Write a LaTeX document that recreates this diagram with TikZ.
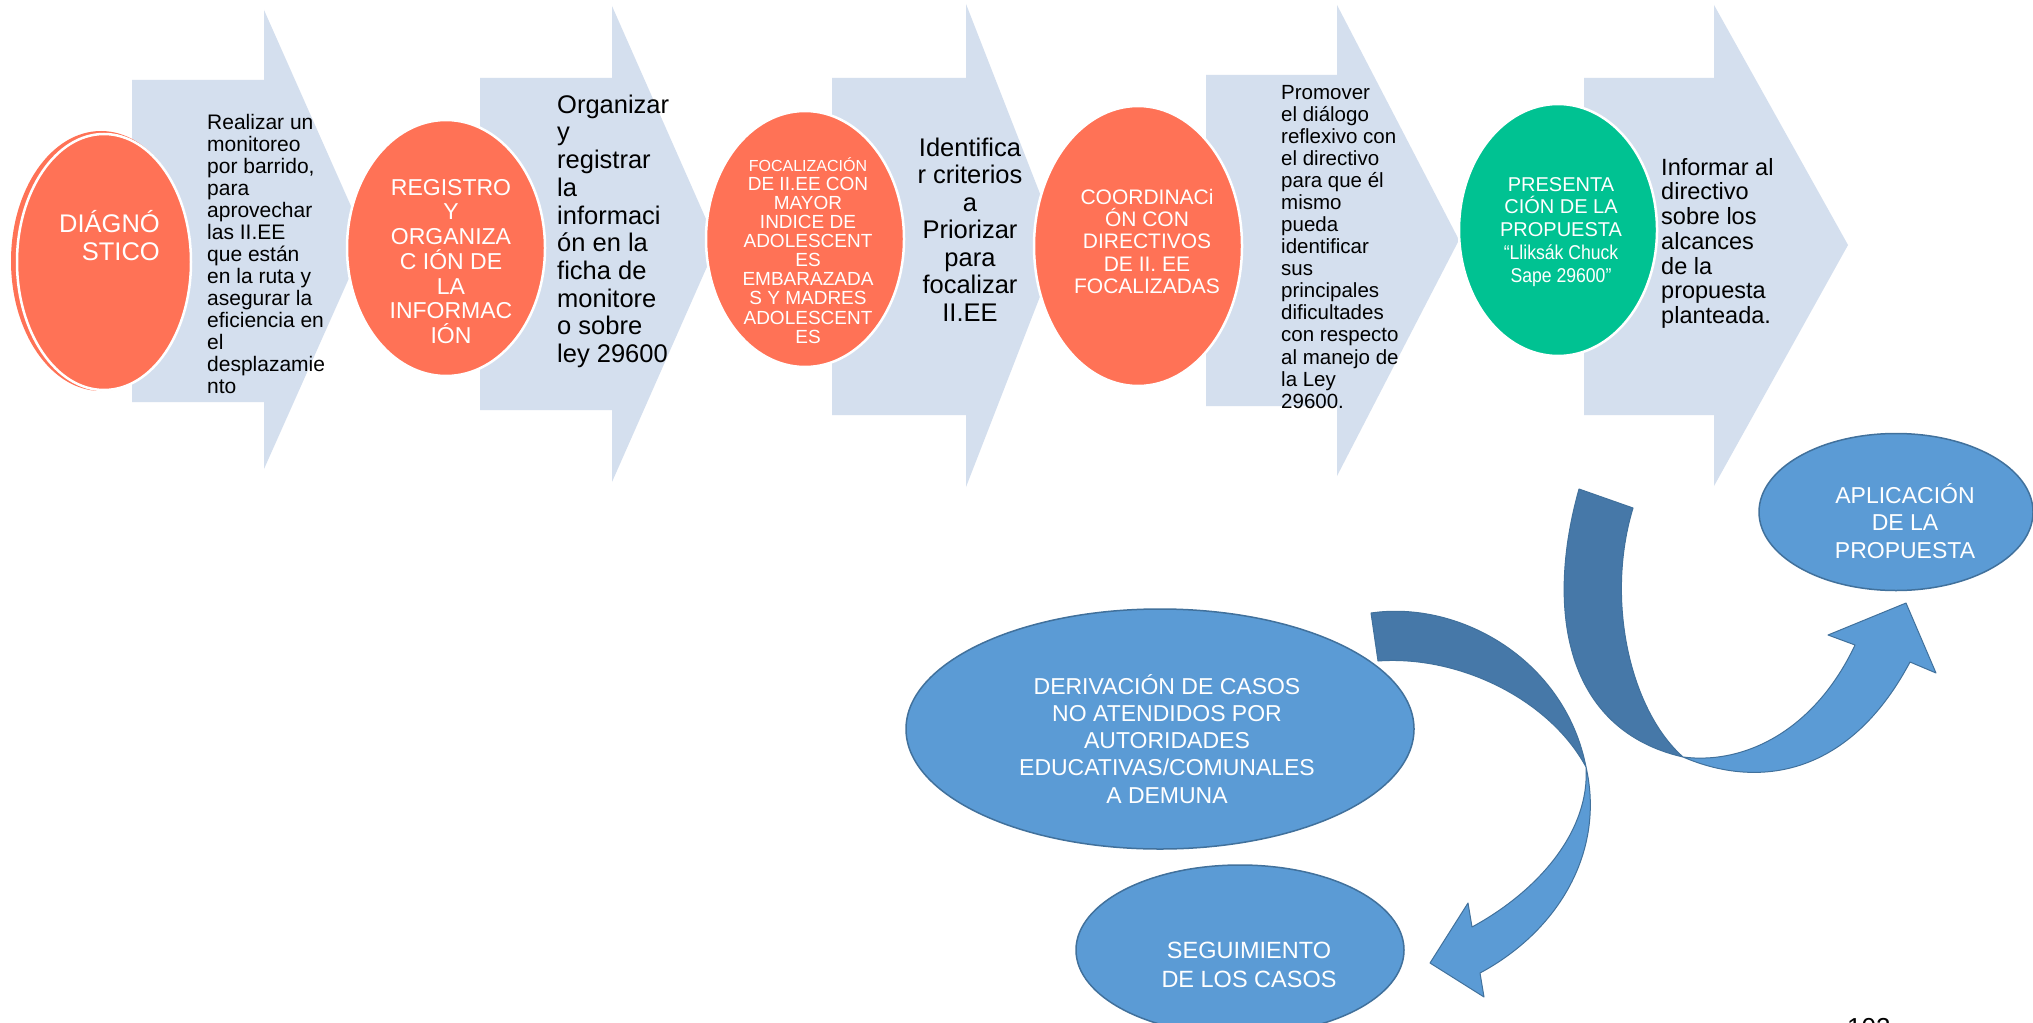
\documentclass[tikz,border=0pt]{standalone}
\usepackage{fontspec}
\usepackage{graphicx}
\setmainfont{Liberation Sans}
\lineskiplimit=-100pt
\definecolor{chev}{RGB}{212,223,238}
\definecolor{salmon}{RGB}{255,114,86}
\definecolor{greenell}{RGB}{0,194,146}
\definecolor{blueA}{RGB}{91,155,213}
\definecolor{blueline}{RGB}{65,113,156}
\definecolor{darkband}{RGB}{70,120,168}
\begin{document}
\begin{tikzpicture}[x=1pt,y=-1pt,
  chevron/.style={fill=chev,draw=none},
  salmonell/.style={fill=salmon,draw=white,line width=2.5pt},
  greenellipse/.style={fill=greenell,draw=white,line width=2.5pt},
  blueell/.style={fill=blueA,draw=blueline,line width=1.5pt},
  bandback/.style={fill=darkband,draw=blueline,line width=1pt,line join=round},
  bandfront/.style={fill=blueA,draw=blueline,line width=1pt,line join=round},
  bodytext/.style={text=black,inner sep=0pt,align=left,anchor=north west},
  bodytextc/.style={text=black,inner sep=0pt,align=center,anchor=north},
  elltext/.style={text=white,inner sep=0pt,align=center,anchor=north}]
\useasboundingbox (0,0) rectangle (2033,1022);
\fill[white] (0,0) rectangle (2033,1022);

% chevrons
\fill[chevron] (132,80) -- (264,80) -- (264,10) -- (366,240) -- (264,469) -- (264,402) -- (132,402) -- cycle;
\fill[chevron] (480,78) -- (612,78) -- (612,6) -- (717,244) -- (612,482) -- (612,410) -- (480,410) -- cycle;
\fill[chevron] (832,78) -- (966,78) -- (966,4) -- (1060,245) -- (966,487) -- (966,415) -- (832,415) -- cycle;
\fill[chevron] (1206,75) -- (1337,75) -- (1337,5) -- (1459,240) -- (1337,476) -- (1337,406) -- (1206,406) -- cycle;
\fill[chevron] (1584,78) -- (1714,78) -- (1714,5) -- (1848,245) -- (1714,486) -- (1714,415) -- (1584,415) -- cycle;

% chevron texts
\node[bodytext,font=\fontsize{21}{22}\selectfont] (t1) at (207,108)
 {\rule{0pt}{21pt}Realizar un\\monitoreo\\por barrido,\\para\\aprovechar\\las II.EE\\que están\\en la ruta y\\asegurar la\\eficiencia en\\el\\desplazamie\\nto};
\node[bodytext,font=\fontsize{25.5}{27.7}\selectfont] (t2) at (557,87.5)
 {\rule{0pt}{25.5pt}Organizar\\y\\registrar\\la\\informaci\\ón en la\\ficha de\\monitore\\o sobre\\ley 29600};
\node[bodytextc,font=\fontsize{25.5}{27.5}\selectfont] (t3) at (970,130.5)
 {\rule{0pt}{25.5pt}Identifica\\r criterios\\a\\Priorizar\\para\\focalizar\\II.EE};
\node[bodytext,font=\fontsize{20.5}{22.07}\selectfont] (t4) at (1281,78.5)
 {\rule{0pt}{20.5pt}Promover\\el diálogo\\reflexivo con\\el directivo\\para que él\\mismo\\pueda\\identificar\\sus\\principales\\dificultades\\con respecto\\al manejo de\\la Ley\\29600.};
\node[bodytext,font=\fontsize{23.5}{24.7}\selectfont] (t5) at (1661,151.5)
 {\rule{0pt}{23.5pt}Informar al\\directivo\\sobre los\\alcances\\de la\\propuesta\\planteada.};

% salmon / green ellipses
\fill[salmon] (101,261) ellipse [x radius=90pt,y radius=130pt];
\draw[salmonell] (104,262) ellipse [x radius=87pt,y radius=128pt];
\draw[salmonell] (446,248) ellipse [x radius=99pt,y radius=128pt];
\draw[salmonell] (805,239) ellipse [x radius=99pt,y radius=128pt];
\draw[salmonell] (1138,246) ellipse [x radius=104pt,y radius=140pt];
\draw[greenellipse] (1558,230) ellipse [x radius=99pt,y radius=126pt];

\node[elltext,anchor=north east,align=right,font=\fontsize{25.5}{28}\selectfont] (e1t) at (160,206.5)
 {\rule{0pt}{25.5pt}DIÁGNÓ\\STICO};
\node[elltext,font=\fontsize{23}{24.7}\selectfont] (e2t) at (451,172)
 {\rule{0pt}{23pt}REGISTRO\\Y\\ORGANIZA\\C IÓN DE\\LA\\INFORMAC\\IÓN};
\node[elltext,font=\fontsize{19}{19.1}\selectfont] (e3t) at (808,155)
 {{\fontsize{16}{19.1}\selectfont\rule{0pt}{16pt}FOCALIZACIÓN}\\DE II.EE CON\\MAYOR\\INDICE DE\\ADOLESCENT\\ES\\EMBARAZADA\\S Y MADRES\\ADOLESCENT\\ES};
\node[elltext,font=\fontsize{21}{22.3}\selectfont] (e4t) at (1147,183)
 {\rule{0pt}{21pt}COORDINACi\\ÓN CON\\DIRECTIVOS\\DE II. EE\\FOCALIZADAS};
\node[elltext,font=\fontsize{20}{22.7}\selectfont] (e5t) at (1561,171)
 {\rule{0pt}{20pt}PRESENTA\\CIÓN DE LA\\PROPUESTA\\\scalebox{0.88}[1]{“Lliksák Chuck}\\\scalebox{0.88}[1]{Sape 29600”}};

% curved band arrows (right one)
\filldraw[bandback]
  (1579,489) .. controls (1545,610) and (1565,730) .. (1683,757)
  .. controls (1630,710) and (1605,600) .. (1633,508) -- cycle;
\filldraw[bandfront]
  (1683,757) .. controls (1760,790) and (1850,775) .. (1910,662)
  -- (1936,673) -- (1906,603) -- (1828,635) -- (1855,645)
  .. controls (1815,730) and (1745,765) .. (1683,757) -- cycle;
% curved band arrows (left one)
\filldraw[bandback]
  (1371,613) .. controls (1460,600) and (1565,660) .. (1586,767)
  .. controls (1550,700) and (1460,655) .. (1378,661) -- cycle;
\filldraw[bandfront]
  (1586,767) .. controls (1605,850) and (1560,930) .. (1480,973)
  -- (1484,997) -- (1430,963) -- (1468,903) -- (1472,927)
  .. controls (1540,890) and (1590,830) .. (1586,767) -- cycle;

% blue ellipses
\filldraw[blueell] (1160,729) ellipse [x radius=254pt,y radius=120pt];
\filldraw[blueell] (1240,950) ellipse [x radius=164pt,y radius=85pt];
\filldraw[blueell] (1896,512) ellipse [x radius=137pt,y radius=78.5pt];

\node[elltext,font=\fontsize{23}{27.2}\selectfont] (dert) at (1167,671)
 {\rule{0pt}{23pt}DERIVACIÓN DE CASOS\\NO ATENDIDOS POR\\AUTORIDADES\\EDUCATIVAS/COMUNALES\\A DEMUNA};
\node[elltext,font=\fontsize{23.5}{29}\selectfont] (segt) at (1249,935)
 {\rule{0pt}{23.5pt}SEGUIMIENTO\\DE LOS CASOS};
\node[elltext,font=\fontsize{23}{27.5}\selectfont] (aplt) at (1905,480)
 {\rule{0pt}{23pt}APLICACIÓN\\DE LA\\PROPUESTA};

% page number (cut off at the bottom, as in the reference)
\node[anchor=base west,inner sep=0pt,font=\fontsize{26}{26}\selectfont] (pagenum) at (1847,1036) {102};
\end{tikzpicture}
\end{document}
